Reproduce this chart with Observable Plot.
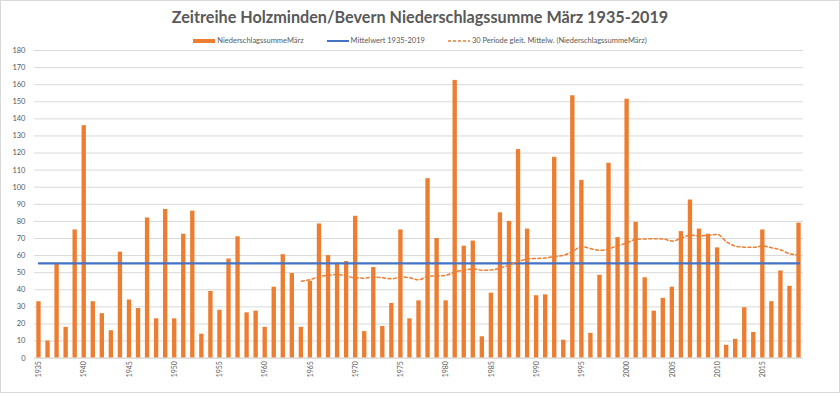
<!DOCTYPE html>
<html>
<head>
<meta charset="utf-8">
<script src="https://cdn.jsdelivr.net/npm/d3@7"></script>
<script src="https://cdn.jsdelivr.net/npm/@observablehq/plot@0.6"></script>
<style>
  html, body { margin: 0; padding: 0; background: #fff; }
  #wrap { position: relative; width: 838px; height: 391px; border: 1px solid #d9d9d9; overflow: hidden; font-family: Lato, "Open Sans", sans-serif; }
  #title { position: absolute; top: 6px; left: 0; width: 838px; text-align: center; font-size: 16.2px; font-weight: bold; color: #595959; }
  #legend { position: absolute; top: 35px; left: 0; width: 838px; display: flex; justify-content: center; gap: 23px; font-size: 7.5px; color: #595959; }
  .li { display: flex; align-items: center; gap: 2px; }
  #chart { position: absolute; top: 39px; left: -1px; }
</style>
</head>
<body>
<div id="wrap">
  <div id="title">Zeitreihe Holzminden/Bevern Niederschlagssumme März 1935-2019</div>
  <div id="legend">
    <span class="li"><svg width="22" height="6"><rect x="0" y="1" width="22" height="4" fill="#ED7D31"/></svg>NiederschlagssummeMärz</span>
    <span class="li"><svg width="22" height="6"><line x1="0" x2="22" y1="3" y2="3" stroke="#4472C4" stroke-width="2"/></svg>Mittelwert 1935-2019</span>
    <span class="li"><svg width="22" height="6"><line x1="0" x2="22" y1="3" y2="3" stroke="#ED7D31" stroke-width="1.5" stroke-dasharray="3,2"/></svg>30 Periode gleit. Mittelw. (NiederschlagssummeMärz)</span>
  </div>
  <div id="chart"></div>
</div>
<script>
const years = d3.range(1935, 2020);
const precip = [
  33, 10, 55, 18, 75, 136, 33, 26, 16, 62,
  34, 29, 82, 23, 87, 23, 72.5, 86, 14, 39,
  28, 58, 71, 26.5, 27.5, 18, 41.5, 60.5, 49.5, 18,
  45, 78.5, 60, 55.5, 56.5, 83, 15.5, 53, 18.5, 32,
  75, 23, 33.5, 105, 70, 33.5, 162.5, 65.5, 68.5, 12.5,
  38, 85, 80, 122, 75.5, 36.5, 37, 117.5, 10.5, 153.5,
  104, 14.5, 48.5, 114, 70.5, 151.5, 79.5, 47, 27.5, 35,
  41.5, 74, 92.5, 75.5, 72.5, 64.5, 7.5, 11, 29.5, 15,
  75, 33, 51, 42, 79
];
const meanValue = 55.4;
const maYears = d3.range(1964, 2020);
const movingAvg = [
  45.0, 46.0, 47.7, 48.5, 48.9, 48.0, 46.9, 46.8, 47.5, 47.0,
  46.4, 47.5, 47.0, 45.8, 48.0, 48.1, 48.5, 50.5, 51.4, 52.2,
  51.4, 51.6, 52.8, 54.5, 56.5, 58.0, 58.3, 58.6, 59.5, 60.2,
  62.5, 65.3, 64.0, 63.1, 64.0, 65.8, 67.5, 69.5, 69.7, 69.9,
  69.7, 68.5, 70.2, 72.0, 71.5, 72.0, 72.3, 68.0, 65.5, 64.9,
  64.8, 65.6, 64.5, 63.3, 61.0, 60.4
];
const yTicks = d3.range(0, 181, 10);
const xTicks = years.filter(y => y % 5 === 0);

const bars = years.map((y, i) => ({year: y, value: precip[i]}));
const meanData = years.map(y => ({year: y, value: meanValue}));
const maData = maYears.map((y, i) => ({year: y, value: movingAvg[i]}));

const chart = Plot.plot({
  width: 840,
  height: 354,
  marginTop: 10,
  marginBottom: 36,
  marginLeft: 34,
  marginRight: 36,
  style: {fontFamily: "Lato, 'Open Sans', sans-serif", fontSize: "8px", color: "#595959", background: "transparent"},
  x: {type: "band", domain: years, paddingInner: 0.52, paddingOuter: 0.26, round: false, label: null},
  y: {domain: [0, 180], label: null},
  marks: [
    Plot.gridY(yTicks, {stroke: "#d9d9d9", strokeOpacity: 1}),
    Plot.axisY({ticks: yTicks, tickSize: 0, tickPadding: 9, fontSize: 7.5, label: null}),
    Plot.axisX({ticks: xTicks, tickFormat: d => String(d), tickSize: 0, tickPadding: 3, tickRotate: -90, fontSize: 7, label: null}),
    Plot.barY(bars, {x: "year", y: "value", fill: "#ED7D31"}),
    Plot.ruleY([0], {stroke: "#d9d9d9"}),
    Plot.lineY(meanData, {x: "year", y: "value", stroke: "#4472C4", strokeWidth: 2.2}),
    Plot.lineY(maData, {x: "year", y: "value", stroke: "#ED7D31", strokeWidth: 1.5, strokeDasharray: "3,2.5", curve: "monotone-x"})
  ]
});
document.getElementById("chart").appendChild(chart);
</script>
</body>
</html>
